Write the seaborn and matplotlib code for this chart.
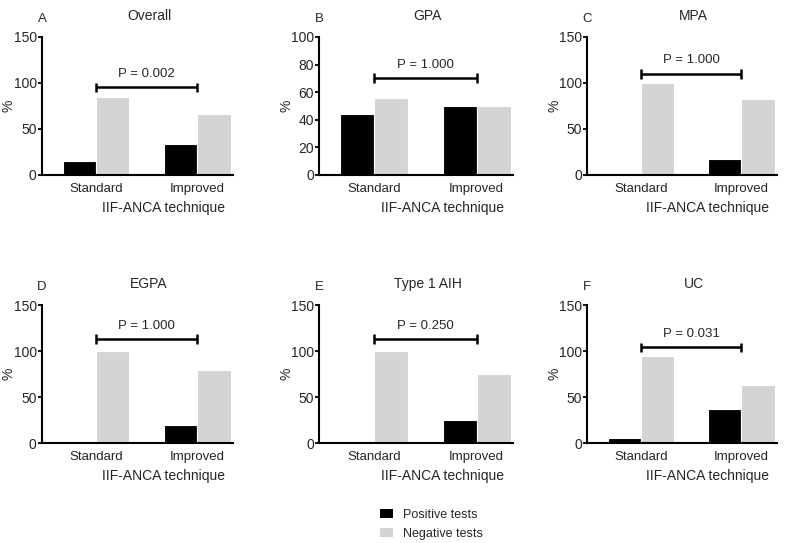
import seaborn as sns
import matplotlib.pyplot as plt
import pandas as pd
from matplotlib.patches import Patch

plt.switch_backend('Agg')

# chart data
panels = ['A', 'B', 'C', 'D', 'E', 'F']
titles = ['Overall', 'GPA', 'MPA', 'EGPA', 'Type 1 AIH', 'UC']
techniques = ['Standard', 'Improved']
positive = [[15, 34], [44, 50], [0, 17], [0, 20], [0, 25], [5, 37]]
negative = [[85, 66], [56, 50], [100, 83], [100, 80], [100, 75], [95, 63]]
p_values = ['P = 0.002', 'P = 1.000', 'P = 1.000', 'P = 1.000', 'P = 0.250', 'P = 0.031']
bracket_y = [95, 70, 110, 113, 113, 104]
y_max = [150, 100, 150, 150, 150, 150]
y_step = [50, 20, 50, 50, 50, 50]
legend_labels = ['Positive tests', 'Negative tests']
colors = ['#000000', '#d4d4d4']

sns.set_theme(style='white')
plt.rcParams['font.family'] = ['Liberation Sans', 'DejaVu Sans']

fig = plt.figure(figsize=(8, 5.43), dpi=100)

# axes positions in figure fractions
lefts = [0.0525, 0.399, 0.734]
widths = [0.239, 0.2425, 0.2375]
bottoms = [0.678, 0.184]
height = 0.254

for i, panel in enumerate(panels):
    row, col = divmod(i, 3)
    ax = fig.add_axes([lefts[col], bottoms[row], widths[col], height])
    width_px = widths[col] * 800

    df = pd.DataFrame({
        'technique': techniques * 2,
        'pct': positive[i] + negative[i],
        'result': [legend_labels[0]] * 2 + [legend_labels[1]] * 2,
    })
    sns.barplot(data=df, x='technique', y='pct', hue='result',
                palette=colors, width=0.66, edgecolor='white', linewidth=0.8,
                legend=False, ax=ax)

    ax.set_ylim(0, y_max[i])
    ax.set_yticks(range(0, y_max[i] + 1, y_step[i]))
    ax.set_xlim(-0.535, 1.356)

    # significance bracket between the two techniques
    yb = bracket_y[i]
    cap = y_max[i] * 0.035
    ax.plot([0, 1], [yb, yb], color='black', lw=1.8, solid_capstyle='butt')
    for xx in (0, 1):
        ax.plot([xx, xx], [yb - cap, yb + cap], color='black', lw=1.8, solid_capstyle='butt')
    ax.annotate(p_values[i], xy=(0.5, yb), xytext=(0, 5.5), textcoords='offset points',
                ha='center', va='bottom', fontsize=9.5)

    sns.despine(ax=ax)
    for s in ('left', 'bottom'):
        ax.spines[s].set_color('black')
        ax.spines[s].set_linewidth(1.5)
    ax.tick_params(axis='y', direction='out', length=3, width=1.3, color='black',
                   labelsize=10, pad=0.8, left=True)
    ax.tick_params(axis='x', length=0, labelsize=9.5, pad=6)

    ax.set_ylabel('%', fontsize=10)
    ax.yaxis.set_label_coords(-26 / width_px, 0.5)
    ax.set_xlabel('IIF-ANCA technique', fontsize=10)
    ax.xaxis.set_label_coords(0.635, -0.19)

    ax.text(0.0, 1.13, panel, transform=ax.transAxes, ha='center', va='center', fontsize=9.5)
    ax.text(0.56, 1.155, titles[i], transform=ax.transAxes, ha='center', va='center', fontsize=10)

handles = [Patch(facecolor=c, edgecolor='none') for c in colors]
fig.legend(handles, legend_labels, loc='center left', bbox_to_anchor=(0.461, 0.034),
           frameon=False, fontsize=9, handlelength=1.05, handleheight=0.75,
           labelspacing=0.55, handletextpad=0.75)

fig.savefig('out.png', dpi=100)
plt.close(fig)
